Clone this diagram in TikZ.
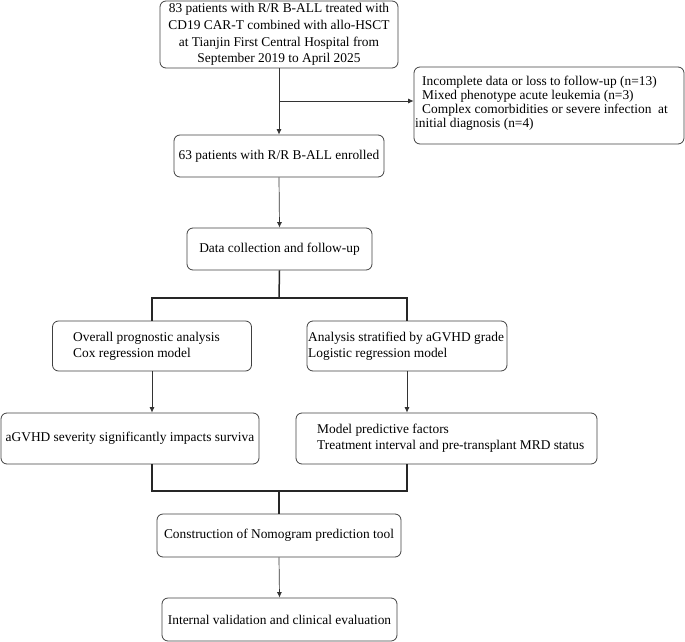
\documentclass[tikz,border=0pt]{standalone}
\usepackage{fontspec}
\setmainfont{Liberation Serif}
\usetikzlibrary{arrows.meta}
\begin{document}
\begin{tikzpicture}[x=1pt,y=-1pt,
  box/.style={draw=black!75, line width=0.8pt, rounded corners=6pt, inner sep=0pt, align=center,
    font=\fontsize{13.4}{16.6}\selectfont},
  txt/.style={inner sep=0pt, align=left, anchor=west, font=\fontsize{13.4}{16}\selectfont},
  arr/.style={draw=black!80, line width=0.7pt, -{Latex[length=5.5pt,width=5pt]}},
  bracket/.style={draw=black!85, line width=1.5pt}]
\useasboundingbox (0,0) rectangle (685,642);
% boxes
\node[box, minimum width=238pt, minimum height=67pt] (b1) at (279,34.5)
  {83 patients with R/R B-ALL treated with\\CD19 CAR-T combined with allo-HSCT\\at Tianjin First Central Hospital from\\September 2019 to April 2025};
\node[box, minimum width=210pt, minimum height=42pt] (b2) at (279,156)
  {63 patients with R/R B-ALL enrolled};
\node[box, minimum width=270pt, minimum height=77pt] (b3) at (549,105.5) {};
\node[txt, font=\fontsize{13.4}{14}\selectfont] (t3) at (415,103)
  {\hspace{7pt}Incomplete data or loss to follow-up (n=13)\\\hspace{7pt}Mixed phenotype acute leukemia (n=3)\\\hspace{7pt}Complex comorbidities or severe infection\ \ at\\initial diagnosis (n=4)};
\node[box, minimum width=185pt, minimum height=42pt] (b4) at (279.5,249)
  {Data collection and follow-up};
\node[box, minimum width=199pt, minimum height=50pt] (b5) at (152,346) {};
\node[txt] (t5) at (73,346) {Overall prognostic analysis\\Cox regression model};
\node[box, minimum width=200pt, minimum height=50pt] (b6) at (407,346) {};
\node[txt] (t6) at (308,346) {Analysis stratified by aGVHD grade\\Logistic regression model};
\node[box, minimum width=258pt, minimum height=51pt] (b7) at (130,438.5)
  {aGVHD severity significantly impacts surviva};
\node[box, minimum width=301pt, minimum height=51pt] (b8) at (446.5,438.5) {};
\node[txt] (t8) at (317,438.5) {Model predictive factors\\Treatment interval and pre-transplant MRD status};
\node[box, minimum width=244pt, minimum height=43pt] (b9) at (279,535.5)
  {Construction of Nomogram prediction tool};
\node[box, minimum width=235pt, minimum height=43pt] (b10) at (279.5,619.5)
  {Internal validation and clinical evaluation};
% connectors
\coordinate (j1) at (279,101);
\coordinate (jt) at (279,298);
\coordinate (jb) at (279,491);
\draw[arr] (b1.south) -- (b2.north);
\draw[arr] (j1) -- (j1 -| b3.west);
\draw[arr] (b2.south) -- (b4.north);
\draw[bracket] (b4.south) -- (jt);
\draw[bracket] (b5.north) -- (b5.north |- jt) -- (b6.north |- jt) -- (b6.north);
\draw[arr] (b5.south) -- (b5.south |- b7.north);
\draw[arr] (b6.south) -- (b6.south |- b8.north);
\draw[bracket] (b5.south |- b7.south) -- (b5.south |- jb) -- (b6.south |- jb) -- (b6.south |- b8.south);
\draw[bracket] (jb) -- (b9.north);
\draw[arr] (b9.south) -- (b10.north);
\end{tikzpicture}
\end{document}
